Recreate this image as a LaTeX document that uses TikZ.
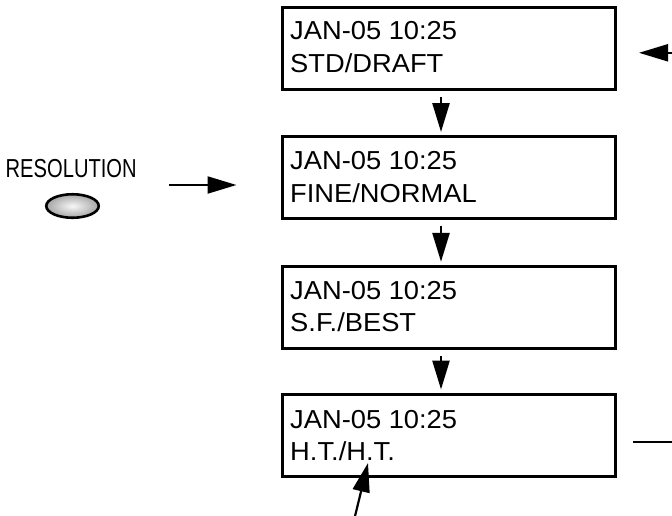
\documentclass[tikz,border=0pt]{standalone}
\usepackage{fontspec}
\setmainfont{Liberation Sans}
\usetikzlibrary{arrows.meta,shapes.geometric}
\newcommand{\bxtext}[1]{\scalebox{1.05}[1]{#1}}
\begin{document}
\begin{tikzpicture}[x=1pt,y=-1pt,
  lcd/.style={draw, line width=3pt, minimum width=333pt, minimum height=82pt, outer sep=0pt, inner sep=0pt},
  txt/.style={font=\fontsize{26}{31}\selectfont, inner sep=0pt, anchor=base west},
  arr/.style={line width=2.6pt, -{Triangle[length=29pt,width=17pt]}},
  thin/.style={line width=2.4pt}]
\useasboundingbox (0,0) rectangle (672,515);
% boxes
\node[lcd] (b1) at (449,48.6) {};
\node[lcd] (b2) at (449,177.5) {};
\node[lcd] (b3) at (449,307.3) {};
\node[lcd] (b4) at (449,435) {};
% texts
\node[txt] (t1a) at ([shift={(7.5pt,-32pt)}]b1.north west) {\bxtext{JAN-05 10:25}};
\node[txt] (t1b) at ([shift={(7.5pt,-65pt)}]b1.north west) {\bxtext{STD/DRAFT}};
\node[txt] (t2a) at ([shift={(7.5pt,-33pt)}]b2.north west) {\bxtext{JAN-05 10:25}};
\node[txt] (t2b) at ([shift={(7.5pt,-65.5pt)}]b2.north west) {\bxtext{FINE/NORMAL}};
\node[txt] (t3a) at ([shift={(7.5pt,-33pt)}]b3.north west) {\bxtext{JAN-05 10:25}};
\node[txt] (t3b) at ([shift={(7.5pt,-65.5pt)}]b3.north west) {\bxtext{S.F./BEST}};
\node[txt] (t4a) at ([shift={(7.5pt,-34pt)}]b4.north west) {\bxtext{JAN-05 10:25}};
\node[txt] (t4b) at ([shift={(7.5pt,-66pt)}]b4.north west) {\bxtext{H.T./H.T.}};
% button
\node[txt] (res) at (5.5,177) {\scalebox{0.775}[1]{RESOLUTION}};
\node[ellipse, draw, line width=2.6pt, minimum width=52.5pt, minimum height=23.5pt, inner sep=0pt,
      inner color=gray!6, outer color=gray!70] (btn) at (72.5,206) {};
% arrows down
\draw[arr, shorten <=7.5pt, shorten >=4.5pt] ([xshift=-8pt]b1.south) -- ([xshift=-8pt]b2.north);
\draw[arr, shorten <=7.5pt, shorten >=4.5pt] ([xshift=-8pt]b2.south) -- ([xshift=-8pt]b3.north);
\draw[arr, shorten <=7.5pt, shorten >=4.5pt] ([xshift=-8pt]b3.south) -- ([xshift=-8pt]b4.north);
% resolution arrow
\coordinate (r1) at (169,185);
\draw[arr, line width=2.2pt] (r1) -- ([shift={(-46pt,-7.5pt)}]b2.west);
% return loop ends
\coordinate (e1) at (672,52.8);
\draw[arr, line width=2.2pt] (e1) -- ([shift={(23.5pt,-4.2pt)}]b1.east);
\coordinate (e2) at (672,441.7);
\draw[thin] ([shift={(17.5pt,-6.7pt)}]b4.east) -- (e2);
% bottom pointer
\coordinate (p1) at (354.8,517);
\draw[arr, line width=2.2pt] (p1) -- (368,463);
\end{tikzpicture}
\end{document}
